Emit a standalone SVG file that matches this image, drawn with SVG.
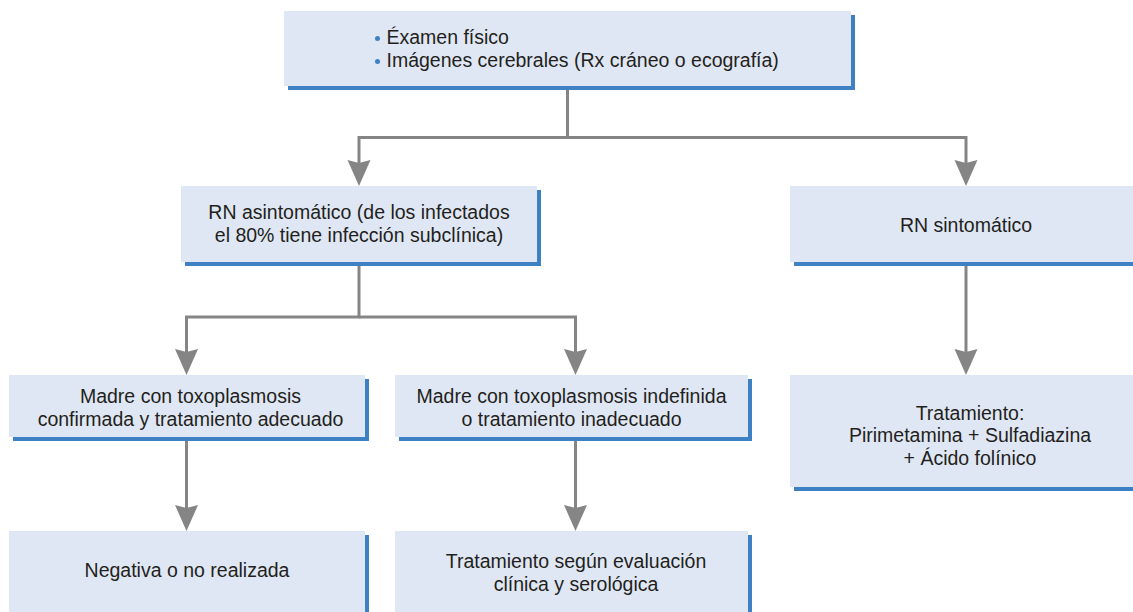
<svg xmlns="http://www.w3.org/2000/svg" xmlns:xlink="http://www.w3.org/1999/xlink" width="1133" height="612" viewBox="0 0 1133 612">
<style>
.box{fill:#e0e7f4}
.sh{fill:#3d80c4}
.ln{fill:none;stroke:#858585;stroke-width:3}
.ah{fill:#858585}
text{font-family:"Liberation Sans",Arial,sans-serif;font-size:19.5px;fill:#231f20;text-anchor:middle}
.l{text-anchor:start}
.bul{fill:#3d80c4}
</style>
<defs>
<path id="ah" d="M-11.5,-26 L0,-23 L11.5,-26 L0,0 Z"/>
</defs>
<rect width="1133" height="612" fill="#ffffff"/>
<g id="connectors">
<path class="ln" d="M567.5,86 V137.5 H359 V170"/>
<path class="ln" d="M567.5,137.5 H966 V170"/>
<path class="ln" d="M359,262 V317 H186.5 V360"/>
<path class="ln" d="M359,317 H575.5 V360"/>
<path class="ln" d="M966,262 V360"/>
<path class="ln" d="M186.5,437 V516"/>
<path class="ln" d="M575.5,437 V516"/>
<use href="#ah" class="ah" x="359" y="186"/>
<use href="#ah" class="ah" x="966" y="186"/>
<use href="#ah" class="ah" x="186.5" y="375"/>
<use href="#ah" class="ah" x="575.5" y="375"/>
<use href="#ah" class="ah" x="966" y="375"/>
<use href="#ah" class="ah" x="186.5" y="531"/>
<use href="#ah" class="ah" x="575.5" y="531"/>
</g>
<g id="top">
<rect class="sh" x="288" y="15" width="567" height="75"/>
<rect class="box" x="284" y="11" width="567" height="75"/>
<circle class="bul" cx="377.5" cy="38.5" r="2.5"/>
<circle class="bul" cx="377.5" cy="61.5" r="2.5"/>
<text class="l" x="386.5" y="44">Éxamen físico</text>
<text class="l" x="386.5" y="66.5">Imágenes cerebrales (Rx cráneo o ecografía)</text>
</g>
<g id="rn-asintomatico">
<rect class="sh" x="185" y="190" width="356" height="76"/>
<rect class="box" x="181" y="186" width="356" height="76"/>
<text x="359" y="219">RN asintomático (de los infectados</text>
<text x="359" y="241.5">el 80% tiene infección subclínica)</text>
</g>
<g id="rn-sintomatico">
<rect class="sh" x="794" y="190" width="360" height="76"/>
<rect class="box" x="790" y="186" width="360" height="76"/>
<text x="966" y="231.5">RN sintomático</text>
</g>
<g id="madre-confirmada">
<rect class="sh" x="13" y="379" width="356" height="62"/>
<rect class="box" x="9" y="375" width="356" height="62"/>
<text x="190.5" y="403">Madre con toxoplasmosis</text>
<text x="190.5" y="426">confirmada y tratamiento adecuado</text>
</g>
<g id="madre-indefinida">
<rect class="sh" x="399" y="379" width="353" height="62"/>
<rect class="box" x="395" y="375" width="353" height="62"/>
<text x="571.5" y="403">Madre con toxoplasmosis indefinida</text>
<text x="571.5" y="425.5">o tratamiento inadecuado</text>
</g>
<g id="tratamiento">
<rect class="sh" x="794" y="379" width="360" height="112"/>
<rect class="box" x="790" y="375" width="360" height="112"/>
<text x="970" y="420">Tratamiento:</text>
<text x="970" y="442">Pirimetamina + Sulfadiazina</text>
<text x="970" y="465">+ Ácido folínico</text>
</g>
<g id="negativa">
<rect class="sh" x="13" y="535" width="356" height="100"/>
<rect class="box" x="9" y="531" width="356" height="100"/>
<text x="187" y="577">Negativa o no realizada</text>
</g>
<g id="tratamiento-segun">
<rect class="sh" x="399" y="535" width="353" height="100"/>
<rect class="box" x="395" y="531" width="353" height="100"/>
<text x="576" y="568">Tratamiento según evaluación</text>
<text x="576" y="591">clínica y serológica</text>
</g>
</svg>
